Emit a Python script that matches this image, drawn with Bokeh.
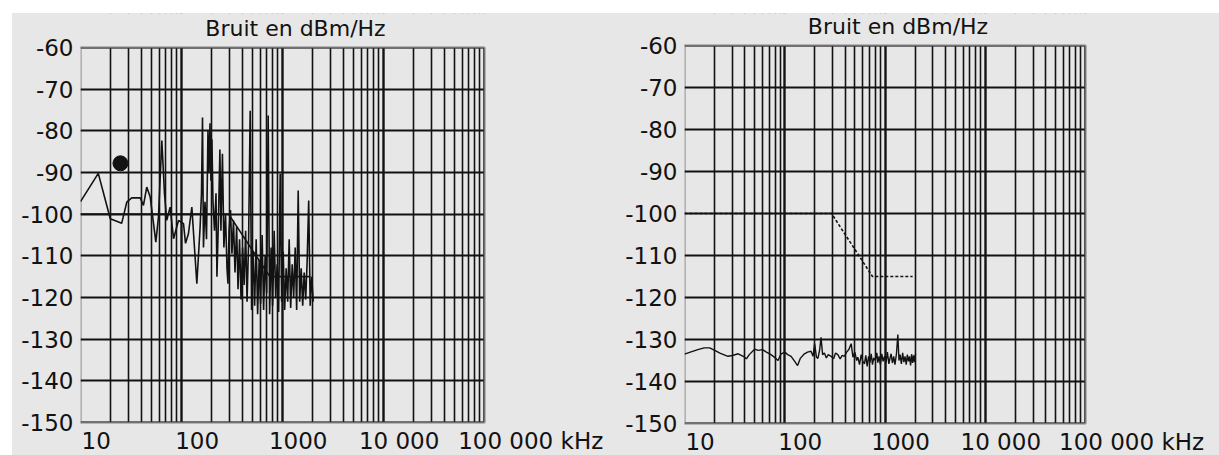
from bokeh.plotting import figure
from bokeh.layouts import row
from bokeh.models import FixedTicker, BoxAnnotation
from bokeh.core.properties import value
from bokeh.embed import file_html
from bokeh.resources import INLINE

# ---- data: frequency in kHz, noise density in dBm/Hz ----
mask_khz = [7, 205, 525, 1320]
mask_dbm = [-100, -100, -115, -115]

# measured noise, left panel
line_a_khz = [
    7.0, 10.5, 13.8, 17.9, 20.1, 22.5, 27.3, 29.4, 31.7, 34.3, 39.0, 41.4,
    44.7, 47.5, 50.0, 54.0, 58.4, 65.4, 73.3, 76.7, 82.0, 88.6, 99.3, 107,
    110.4, 113, 115.5, 119.6, 123.8, 128, 131, 134, 137, 140, 143.5, 148.5,
    153.7, 157, 163, 168, 172, 178, 184, 191, 197.5, 202, 207,
    214, 221, 229, 237, 246, 254, 263, 272, 282, 292, 302, 312, 323, 335,
    346, 358, 371, 384, 397, 411, 425, 440, 455, 471, 488, 505, 522, 540,
    559, 579, 599, 620, 641, 664, 687, 711, 735, 761, 788, 815, 843, 873,
    903, 935, 967, 1001, 1036, 1072, 1109, 1148, 1188, 1229, 1272, 1316,
    1362, 1410,
]
line_a_dbm = [
    -97.0, -90.2, -101.1, -102.2, -97.1, -96.1, -96.1, -97.9, -93.5, -95.9, -106.7, -100.7,
    -82.3, -95.1, -101.5, -98.3, -105.9, -101.5, -102.3, -107.0, -104.7, -98.3, -116.7, -103.1,
    -95.0, -76.8, -108.0, -97.0, -106.0, -80.0, -90.0, -78.2, -92.0, -82.0, -97.0, -104.0,
    -95.0, -115.0, -100.0, -84.5, -104.0, -85.5, -108.0, -100.0, -113.0, -116.7, -104.0,
    -99.0, -109.5, -101.5, -114.0, -103.0, -118.0, -106.0, -120.5, -108.0, -117.0, -104.0, -121.0, -107.0, -75.2,
    -123.0, -109.0, -122.0, -106.0, -124.0, -111.0, -121.5, -105.0, -123.0, -110.0, -119.0, -76.3, -124.0, -108.0,
    -122.0, -104.0, -120.0, -112.0, -123.5, -90.3, -121.0, -109.0, -123.0, -113.0, -121.0, -106.0, -122.5, -112.0,
    -120.0, -108.0, -123.0, -94.3, -121.0, -113.0, -122.0, -114.0, -120.5, -111.0, -96.7, -122.0,
    -115.0, -121.0,
]

# isolated reading marked with a dot, left panel
spot_khz = [17.4]
spot_dbm = [-87.8]

# measured noise, right panel
line_b_khz = [
    7, 8, 9.5, 11, 12.5, 14, 16, 19, 21, 24, 27, 29, 31, 35, 38, 42, 46, 51, 55, 60,
    64, 70, 75, 81, 88, 94, 100, 110, 118, 128, 134, 139, 145, 150, 156, 161, 167, 174,
    182, 190, 203, 215, 225, 237, 250, 262, 276, 290, 305, 322, 335, 350, 365, 375, 390,
    405, 420, 437, 450, 465, 480, 495, 510, 525, 540, 560, 580, 594, 610, 630, 650, 670,
    692, 715, 740, 765, 790, 806, 830, 855, 880, 910, 940, 965, 990, 1020, 1050, 1080,
    1110, 1140, 1170, 1200, 1230, 1260, 1290, 1320, 1350, 1380, 1410,
]
line_b_dbm = [
    -133.5, -133.0, -132.4, -132.0, -132.0, -132.6, -133.3, -134.0, -133.8, -133.4, -134.0,
    -134.6, -133.6, -132.3, -132.6, -132.4, -133.0, -133.6, -134.2, -135.0,
    -133.5, -133.0, -133.6, -134.0, -135.2, -136.2, -134.5, -133.4, -133.0, -132.8, -134.0,
    -131.0, -134.2, -134.5, -132.5, -129.5, -133.6, -133.2,
    -134.4, -133.6, -134.0, -134.6, -133.2, -133.6, -134.6, -133.8, -134.0, -133.0, -132.4,
    -131.0, -134.2, -133.0, -135.0, -134.2, -136.0,
    -133.6, -135.2, -135.8, -133.8, -136.4, -134.0, -135.5, -133.4, -136.0, -134.4, -135.0,
    -133.2, -135.5, -134.0, -136.0, -133.4, -135.2,
    -134.0, -135.6, -133.0, -135.8, -134.2, -133.4, -135.6, -134.0, -136.0, -133.5, -128.8,
    -135.0, -133.6, -135.8, -133.2, -135.4,
    -134.0, -136.0, -133.6, -135.2, -134.0, -136.2, -133.5, -135.6, -133.8, -135.4, -133.4,
]

# axes
y_ticks = [-150, -140, -130, -120, -110, -100, -90, -80, -70, -60]
x_ticks = [10, 100, 1000, 10000, 100000]
x_tick_text = ["10", "100", "1000", "10 000", "100 000 kHz"]
title_text = "Bruit en dBm/Hz"

# extent of the ruled log paper: four decades by nine 10 dB bands
X_START, X_BOX_END = 7, 70000
Y_BOTTOM, Y_TOP = -150, -60

FONT = "DejaVu Sans"
INK = "#121212"
BG = "#e7e7e7"


def make_panel(canvas_w, canvas_h, box_left, box_top, box_w, box_h):
    # the frame covers everything right of the dB labels; the ruled box
    # sits inside it with the title above and the kHz labels below
    px_per_decade = box_w / 4.0
    px_per_db = box_h / float(Y_TOP - Y_BOTTOM)
    x_end = X_START * 10 ** ((canvas_w - box_left) / px_per_decade)
    y_end = Y_TOP + box_top / px_per_db
    y_start = Y_BOTTOM - (canvas_h - box_top - box_h) / px_per_db

    p = figure(width=canvas_w, height=canvas_h, x_axis_type="log",
               x_range=(X_START, x_end), y_range=(y_start, y_end),
               output_backend="svg", toolbar_location=None, tools="")
    p.min_border_left = box_left
    p.min_border_top = 0
    p.min_border_right = 0
    p.min_border_bottom = 0
    p.background_fill_color = BG
    p.border_fill_color = BG
    p.outline_line_color = None

    # logarithmic ruling: decade lines heavier than the 2..9 lines
    dec_lines = [X_START * 10 ** k for k in range(5)]
    sub_lines = [X_START * m * 10 ** k for k in range(4) for m in range(2, 10)]
    p.xgrid.ticker = FixedTicker(ticks=dec_lines, minor_ticks=sub_lines)
    p.xgrid.grid_line_color = INK
    p.xgrid.grid_line_width = 2.4
    p.xgrid.minor_grid_line_color = INK
    p.xgrid.minor_grid_line_width = 1.6
    p.ygrid.ticker = FixedTicker(ticks=y_ticks)
    p.ygrid.grid_line_color = INK
    p.ygrid.grid_line_width = 2.0

    p.xaxis.visible = False
    ax = p.yaxis[0]
    ax.axis_line_color = None
    ax.major_tick_line_color = None
    ax.minor_tick_line_color = None
    ax.major_tick_out = 0
    ax.minor_tick_out = 0
    ax.major_label_text_font = FONT
    ax.major_label_text_font_size = "23px"
    ax.major_label_text_color = INK
    ax.ticker = FixedTicker(ticks=y_ticks)
    ax.major_label_overrides = {t: str(t) for t in y_ticks}
    ax.major_label_standoff = 7

    # mask the ruling outside the box (past the frame edges), then draw
    # the heavy box edge
    far_right = x_end * 10
    far_top = y_end + 10
    far_bottom = y_start - 10
    for kw in (dict(left=X_BOX_END, right=far_right, bottom=far_bottom, top=far_top),
               dict(left=X_START / 10, right=far_right, bottom=far_bottom, top=Y_BOTTOM),
               dict(left=X_START / 10, right=far_right, bottom=Y_TOP, top=far_top)):
        p.add_layout(BoxAnnotation(fill_color=BG, fill_alpha=1.0,
                                   line_color=BG, line_width=2, **kw))
    p.add_layout(BoxAnnotation(left=X_START, right=X_BOX_END,
                               bottom=Y_BOTTOM, top=Y_TOP, fill_alpha=0.0,
                               line_color=INK, line_width=2.6))

    text_style = dict(text_font=value(FONT), text_color=INK,
                      text_baseline="alphabetic", level="overlay")

    # title over the box
    box_mid = (X_START * X_BOX_END) ** 0.5
    p.text(x=[box_mid], y=[Y_TOP], text=[title_text], text_align="center",
           x_offset=13, y_offset=-19, text_font_size="22px", **text_style)

    # frequency labels under the box
    p.text(x=x_ticks[:-1], y=[Y_BOTTOM] * (len(x_ticks) - 1),
           text=x_tick_text[:-1], text_align="center", y_offset=18,
           text_font_size="23px", **text_style)
    p.text(x=x_ticks[-1:], y=[Y_BOTTOM], text=x_tick_text[-1:],
           text_align="left", x_offset=-42, y_offset=18,
           text_font_size="23px", **text_style)
    return p


left = make_panel(603, 442, 68, 34, 404, 375)
left.line(mask_khz, mask_dbm, line_color=INK, line_width=1.6)
left.line(line_a_khz, line_a_dbm, line_color=INK, line_width=1.6)
left.scatter(spot_khz, spot_dbm, size=15, color=INK)

right = make_panel(604, 442, 69, 32, 401, 378)
right.line(mask_khz, mask_dbm, line_color=INK, line_width=1.6, line_dash="3 2")
right.line(line_b_khz, line_b_dbm, line_color=INK, line_width=1.4)

layout = row(left, right, margin=(13, 0, 0, 12),
             styles={"background-color": BG})
open("out.html", "w").write(file_html(layout, INLINE))
